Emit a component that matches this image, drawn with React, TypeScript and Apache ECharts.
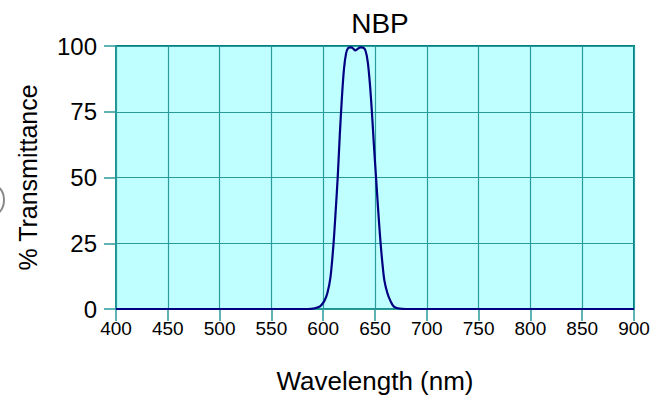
import React, { useEffect, useRef } from "react";
import * as echarts from "echarts";

const wavelengths = [400, 560, 585, 592, 597, 601, 604, 607, 610, 612, 614, 616, 618, 620, 622, 624, 627, 629, 631, 633, 636, 639, 641, 643, 645, 647, 649, 651, 653, 655, 657, 659, 662, 665, 668, 672, 680, 900];
const transmittance = [0, 0, 0, 0.3, 1, 3, 6, 12, 25, 37, 50, 66, 80, 91, 97, 99.2, 99.5, 99, 98.3, 98.8, 99.5, 99.3, 98, 94, 86, 75, 62, 50, 38, 27, 18, 11, 6, 3, 1, 0.3, 0, 0];
const xTicks = [400, 450, 500, 550, 600, 650, 700, 750, 800, 850, 900];
const yTicks = [0, 25, 50, 75, 100];

export default function App() {
  const ref = useRef<HTMLDivElement>(null);
  useEffect(() => {
    if (!ref.current) return;
    const chart = echarts.init(ref.current, undefined, { renderer: "svg" });
    const font = "Liberation Sans, Arial, sans-serif";
    const teal = "#2a9a9a";
    chart.setOption({
      animation: false,
      backgroundColor: "#ffffff",
      title: {
        text: "NBP",
        left: 375,
        top: 4,
        textAlign: "center",
        textStyle: { fontFamily: font, fontSize: 28, fontWeight: "normal", color: "#000" },
      },
      grid: {
        left: 116,
        right: 20,
        top: 46,
        bottom: 86,
        show: true,
        backgroundColor: "#bfffff",
        borderColor: "#008080",
        borderWidth: 2,
      },
      xAxis: {
        type: "value",
        min: xTicks[0],
        max: xTicks[xTicks.length - 1],
        interval: 50,
        name: "Wavelength (nm)",
        nameLocation: "middle",
        nameGap: 59,
        nameTextStyle: { fontFamily: font, fontSize: 26, color: "#000" },
        axisLine: { show: true, lineStyle: { color: teal, width: 1.5 } },
        axisTick: { show: true, length: 12, lineStyle: { color: teal, width: 1.5 } },
        axisLabel: { fontFamily: font, fontSize: 19, color: "#000", margin: 10 },
        splitLine: { show: true, lineStyle: { color: teal, width: 1.2 } },
      },
      yAxis: {
        type: "value",
        min: yTicks[0],
        max: yTicks[yTicks.length - 1],
        interval: 25,
        name: "% Transmittance",
        nameLocation: "middle",
        nameGap: 76,
        nameTextStyle: { fontFamily: font, fontSize: 25, color: "#000" },
        axisLine: { show: true, lineStyle: { color: teal, width: 1.5 } },
        axisTick: { show: true, length: 12, lineStyle: { color: teal, width: 1.5 } },
        axisLabel: { fontFamily: font, fontSize: 24, color: "#000", margin: 19 },
        splitLine: { show: true, lineStyle: { color: teal, width: 1.2 } },
      },
      graphic: [
        {
          type: "circle",
          shape: { cx: -14, cy: 200, r: 18 },
          style: { fill: "none", stroke: "#888", lineWidth: 2 },
          silent: true,
        },
      ],
      series: [
        {
          type: "line",
          data: wavelengths.map((w, i) => [w, transmittance[i]]),
          smooth: 0.3,
          showSymbol: false,
          lineStyle: { color: "#000080", width: 2.2 },
          z: 5,
        },
      ],
    });
    return () => chart.dispose();
  }, []);
  return <div ref={ref} style={{ position: "fixed", left: 0, top: 0, width: 654, height: 399 }} />;
}
